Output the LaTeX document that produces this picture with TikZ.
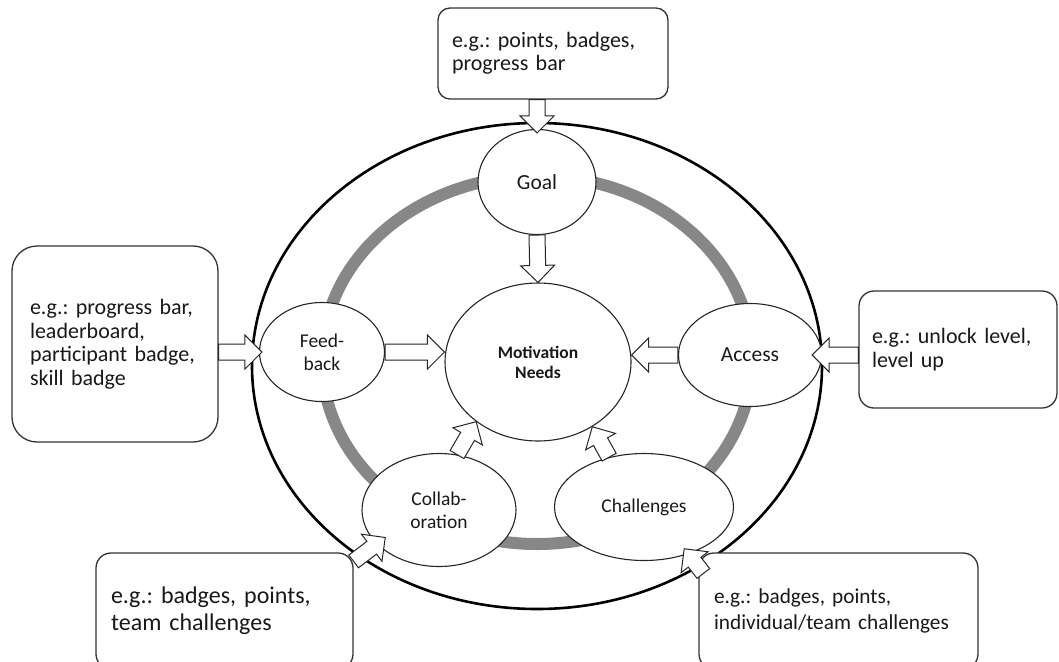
\documentclass[tikz,border=0pt]{standalone}
\usepackage{fontspec}
\setmainfont{Carlito}
\frenchspacing
\usetikzlibrary{shapes.geometric,calc}

% hollow block arrow from #1 to #2
\newcommand{\blockarrow}[2]{%
\path (#1) coordinate (ba-s) (#2) coordinate (ba-t);
\path ($(ba-t)!17pt!(ba-s)$) coordinate (ba-h);
\draw [arrowbody] ($(ba-s)!8pt!90:(ba-t)$) -- ($(ba-h)!8pt!-90:(ba-s)$) -- ($(ba-h)!17pt!-90:(ba-s)$) -- (ba-t) -- ($(ba-h)!17pt!90:(ba-s)$) -- ($(ba-h)!8pt!90:(ba-s)$) -- ($(ba-s)!8pt!-90:(ba-t)$) -- cycle;
}

\begin{document}
\begin{tikzpicture}[x=1pt, y=-1pt,
  egbox/.style={draw=black!80, line width=1.3pt, fill=white, align=left, text=black!90},
  bubble/.style={ellipse, draw=black!85, line width=1.1pt, fill=white, inner sep=0pt, align=center, text=black!90, font=\fontsize{19.5}{23}\selectfont},
  arrowbody/.style={draw=black!85, line width=1pt, fill=white, line join=miter}]
\useasboundingbox (0,0) rectangle (1059,661);
\clip (0,0) rectangle (1059,661);
%
\draw [line width=2.6pt, black] (537,366) ellipse [x radius=285pt, y radius=243pt];
\draw [line width=12pt, color={rgb,255:red,135;green,135;blue,135}] (537,360) ellipse [x radius=215pt, y radius=184pt];
%
\node [bubble, minimum width=118pt, minimum height=105pt, font=\fontsize{21.5}{24}\selectfont] (goal) at (537,182) {Goal};
\node [bubble, minimum width=186pt, minimum height=158pt, font=\bfseries\fontsize{17.5}{20}\selectfont] (motiv) at (538,362) {Motivation\\ Needs};
\node [bubble, minimum width=125pt, minimum height=99pt] (feedback) at (322,352) {Feed-\\ back};
\node [bubble, minimum width=143pt, minimum height=103pt, font=\fontsize{21.5}{24}\selectfont] (access) at (750,355) {Access};
\node [bubble, minimum width=154pt, minimum height=113pt] (collab) at (439,510) {Collab-\\ oration};
\node [bubble, minimum width=179pt, minimum height=107pt] (challenges) at (644,507) {Challenges};
%
\node [egbox, rounded corners=12pt, minimum width=230pt, minimum height=91pt, text width=202pt, inner xsep=14pt, font=\fontsize{22}{23}\selectfont] (goalbox) at (553,53.5) {e.g.: points, badges,\\ progress bar};
\node [egbox, rounded corners=25pt, minimum width=206pt, minimum height=196pt, text width=170pt, inner xsep=18pt, font=\fontsize{22}{23.5}\selectfont] (feedbox) at (115,344) {e.g.: progress bar,\\ leaderboard,\\ participant badge,\\ skill badge};
\node [egbox, rounded corners=15pt, minimum width=198pt, minimum height=117pt, text width=172pt, inner xsep=13pt, font=\fontsize{22}{24}\selectfont] (accessbox) at (958,349.5) {e.g.: unlock level,\\ level up};
\node [egbox, rounded corners=15pt, minimum width=257pt, minimum height=116pt, text width=227pt, inner xsep=15pt, font=\fontsize{24}{27}\selectfont] (collabbox) at (224.5,611) {e.g.: badges, points,\\ team challenges};
\node [egbox, rounded corners=15pt, minimum width=279pt, minimum height=116pt, text width=249pt, inner xsep=15pt, font=\fontsize{21.3}{26}\selectfont] (challbox) at (838.5,611) {e.g.: badges, points,\\ individual/team challenges};
%
\blockarrow{goal.north |- goalbox.south}{$(goal.north)+(0,4)$}
\blockarrow{goal.south}{motiv.north}
\blockarrow{feedbox.east |- feedback.west}{$(feedback.west)+(3,0)$}
\blockarrow{feedback.east}{feedback.east -| motiv.west}
\blockarrow{accessbox.west |- access.east}{$(access.east)+(-10,0)$}
\blockarrow{access.west}{access.west -| motiv.east}
\blockarrow{collab.72}{motiv.224}
\blockarrow{challenges.125}{motiv.310}
\blockarrow{collabbox.21}{$(collab.207)+(10,-5)$}
\blockarrow{$(challbox.162)+(5,8)$}{$(challenges.314)+(-5,-5)$}
%%%%%%%%%%%%%%%%%%%%%%%%%%%%%%%
\end{tikzpicture}
\end{document}
